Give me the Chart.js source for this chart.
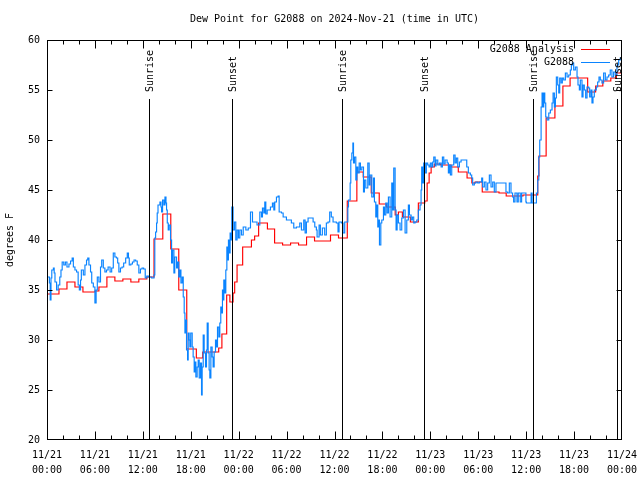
<!DOCTYPE html>
<html><head><meta charset="utf-8">
<script src="https://cdn.jsdelivr.net/npm/chart.js@4"></script>
<style>html,body{margin:0;padding:0;background:#fff}</style>
</head><body>
<canvas id="c" width="640" height="480" style="width:640px;height:480px;display:block"></canvas>
<script>
const chartTitle = 'Dew Point for G2088 on 2024-Nov-21 (time in UTC)';
const yAxisTitle = 'degrees F';
const seriesNames = ['G2088 Analysis', 'G2088'];
const xTickDates = ['11/21','11/21','11/21','11/21','11/22','11/22','11/22','11/22','11/23','11/23','11/23','11/23','11/24'];
const xTickTimes = ['00:00','06:00','12:00','18:00','00:00','06:00','12:00','18:00','00:00','06:00','12:00','18:00','00:00'];
const yTickValues = [20,25,30,35,40,45,50,55,60];

// hours since 11/21 00:00 UTC
const sunHours = [12.81, 23.2, 36.9, 47.24, 60.89, 71.33];
const sunLabels = ['Sunrise','Sunset','Sunrise','Sunset','Sunrise','Sunset'];

// Analysis (value holds from each time until the next)
const analysisHours = [0,1.5,2.5,3.5,4.5,6,6.5,7.5,8.5,9.5,10.5,11.5,12.5,13.4,14.5,15.5,16.5,17.5,18.7,19.5,
  21.5,21.9,22.5,22.9,23.3,23.5,23.8,24.5,25.6,26,26.5,27.6,28.5,29.5,30.5,31.5,32.5,33.5,35.5,36.5,
  37.6,38.8,39.6,40.6,41.6,42.5,43.6,44,44.5,45.5,46.5,47.3,47.6,47.85,48.1,48.5,49.3,50.6,51.5,52.6,
  53.2,53.6,54.5,56.6,57.5,59.6,61.45,61.6,62.5,63.6,64.6,65.5,67.7,68.7,69.6,70.6,71.3,72];
const analysisValues = [34.6,35.1,35.8,35.3,34.8,34.9,35.3,36.3,35.9,36.1,35.8,36.1,36.3,40.1,42.6,39.1,35.0,29.1,28.2,28.8,
  29.2,30.6,34.5,33.8,34.7,35.8,37.5,39.3,40.0,40.4,41.7,41.1,39.7,39.5,39.7,39.5,40.3,39.9,40.5,40.2,
  43.9,46.8,46.3,44.7,43.6,43.3,42.5,42.8,42.3,41.8,43.7,43.9,45.7,46.7,47.3,47.6,47.5,47.3,46.8,46.2,
  45.7,45.8,44.8,44.7,44.4,44.5,46.4,48.4,52.2,53.4,55.4,56.2,54.8,55.4,55.9,56.2,56.7,56.7];

// Station observations
const stationHours = [
  0,0.3,0.4,0.5,0.6,0.8,0.9,1.0,1.2,1.4,1.6,1.75,1.9,2.1,2.3,2.5,2.75,2.95,3.15,3.3,3.5,3.7,3.9,4.05,4.2,4.3,4.55,4.75,4.95,5.1,5.25,5.45,5.6,5.8,6.0,6.15,6.3,6.5,6.7,6.85,7.05,7.25,7.45,7.65,7.9,8.1,8.3,8.5,8.7,8.85,9.0,9.2,9.4,9.6,9.85,10.05,10.2,10.3,10.5,10.7,10.9,11.1,11.3,11.5,11.7,11.9,12.1,12.3,
  12.5,12.7,13.1,13.4,13.5,13.6,13.72,13.8,13.9,14.14,14.27,14.35,14.47,14.64,14.77,14.9,14.97,15.06,15.18,15.3,15.47,15.6,15.72,15.89,16.0,16.22,16.35,16.5,16.64,16.77,16.93,17.06,17.18,17.27,17.39,17.47,17.6,17.68,17.8,17.89,18.0,18.18,18.3,18.43,18.52,18.64,18.8,18.93,19.06,19.22,19.35,19.43,19.56,19.68,19.85,19.97,20.06,20.18,20.3,20.39,20.52,20.68,20.8,20.93,21.1,21.22,21.35,21.52,21.64,21.76,21.89,21.97,22.06,22.14,22.27,22.39,22.52,22.64,22.72,22.8,22.93,23.06,23.14,23.3,23.47,23.64,23.8,23.97,24.14,24.35,
  24.57,24.9,25.2,25.48,25.73,26.0,26.3,26.65,26.86,26.98,27.15,27.27,27.4,27.57,27.82,27.98,28.23,28.4,28.52,28.73,28.94,29.07,29.36,29.57,29.98,30.6,30.9,31.23,31.65,31.86,32.15,32.32,32.48,32.69,33.11,33.32,33.53,33.73,33.82,34.07,34.23,34.48,34.77,34.98,35.19,35.4,35.6,35.82,36.23,36.44,36.57,36.86,37.07,37.28,
  37.67,37.75,37.96,38.04,38.17,38.3,38.38,38.5,38.67,38.8,38.92,39.09,39.25,39.42,39.63,39.75,39.92,40.17,40.34,40.46,40.67,40.88,41.0,41.17,41.3,41.42,41.5,41.63,41.8,41.92,42.13,42.25,42.42,42.59,42.75,42.96,43.17,43.3,43.42,43.59,43.71,43.84,44.0,44.21,44.42,44.63,44.84,45.05,45.25,45.38,45.59,45.75,45.92,46.09,46.3,46.5,46.71,46.84,46.92,47.05,47.17,47.34,47.5,47.67,47.84,48.0,
  48.18,48.3,48.43,48.6,48.72,48.93,49.14,49.35,49.51,49.68,49.85,50.1,50.26,50.39,50.51,50.68,50.93,51.1,51.26,51.43,51.64,51.85,52.47,52.56,52.76,53.01,53.18,53.3,53.51,53.72,53.93,54.14,54.43,54.55,54.76,54.97,55.18,55.39,55.6,55.81,56.01,56.22,57.35,57.47,57.68,57.89,58.1,58.3,58.43,58.6,58.85,59.01,59.26,59.43,59.76,59.97,
  60.03,60.62,60.74,61.16,61.28,61.45,61.58,61.7,61.87,61.99,62.12,62.2,62.33,62.45,62.62,62.83,63.03,63.24,63.37,63.53,63.66,63.78,63.95,64.08,64.2,64.37,64.53,64.7,64.91,65.12,65.33,65.53,65.66,65.78,65.95,66.16,66.37,66.49,66.66,66.78,66.99,67.12,67.28,67.45,67.62,67.83,67.95,68.12,68.24,68.37,68.53,68.78,68.95,69.12,69.28,69.49,69.7,69.91,70.12,70.33,70.53,70.74,70.95,71.16,71.37,71.58,71.78,71.95];
const stationValues = [
  36.3,35.7,34.0,36.2,37.0,37.2,36.7,35.8,35.0,35.5,36.3,37.0,37.8,37.5,37.8,37.3,37.6,37.9,38.2,37.3,37.0,36.8,35.5,35.0,36.0,37.0,36.5,37.5,38.0,38.2,37.5,36.8,35.7,35.3,33.7,35.0,36.3,35.8,37.3,38.0,37.2,36.8,37.0,37.3,36.8,37.2,38.7,38.3,38.2,37.7,36.8,37.2,37.3,37.7,38.2,38.7,38.2,37.5,37.6,37.8,38.0,37.9,37.5,36.7,37.1,37.2,37.1,36.2,
  36.4,36.3,36.2,36.5,40.2,40.8,41.7,42.7,43.5,43.8,43.3,42.8,44.0,43.5,44.3,43.7,43.0,41.7,41.0,41.5,40.0,37.7,39.0,36.7,38.3,37.2,37.8,36.3,37.0,35.7,36.3,34.3,32.7,30.7,32.0,29.0,28.0,30.7,30.0,29.3,30.7,29.3,28.3,26.8,27.8,26.3,27.3,28.0,26.2,27.7,24.5,27.3,30.5,28.7,27.3,29.0,31.7,28.7,27.0,26.2,29.3,28.3,27.3,28.8,30.0,29.3,31.3,30.3,31.7,33.3,32.7,35.0,34.0,36.0,34.7,37.0,39.3,38.0,40.0,38.7,40.7,40.0,43.3,41.0,41.8,40.0,41.0,40.2,41.0,40.5,
  41.3,41.0,41.2,42.8,41.8,41.8,41.5,42.8,42.3,43.2,42.7,43.8,42.6,43.0,43.0,43.3,43.7,43.0,43.8,44.3,44.4,42.8,42.7,42.3,42.0,41.7,41.2,41.3,41.7,41.0,42.0,40.7,41.8,42.2,42.2,41.8,41.3,41.0,40.3,41.5,40.5,41.2,40.5,41.7,41.8,42.8,42.3,41.8,41.7,40.8,41.8,41.7,40.7,41.8,
  43.3,44.0,45.7,48.0,48.7,49.7,47.7,48.3,46.0,47.3,46.7,47.7,47.0,47.3,44.8,46.0,45.2,47.7,45.5,46.5,44.3,46.2,43.8,42.3,43.5,41.3,42.0,39.5,41.7,42.0,43.3,42.5,43.7,42.7,44.3,42.3,45.7,43.0,47.2,43.0,41.0,42.5,41.7,41.0,42.2,43.0,40.7,42.0,43.5,42.5,42.0,42.3,41.7,41.8,42.0,43.0,43.5,45.0,47.3,45.7,47.7,46.7,47.7,47.5,47.3,47.7,
  47.3,47.8,48.3,47.4,48.0,47.5,47.7,47.3,48.3,47.6,48.0,47.7,46.7,47.5,46.5,47.5,48.5,47.7,48.2,47.3,47.8,48.0,48.0,47.3,46.7,46.5,46.2,45.5,45.7,45.8,45.7,45.8,46.2,45.3,45.8,45.0,45.7,46.5,45.3,45.8,44.8,45.7,45.7,44.8,44.7,45.7,44.7,44.3,43.8,44.7,43.8,44.7,43.8,44.7,44.7,43.8,
  43.7,44.7,43.7,43.7,44.7,46.0,48.3,50.0,53.3,54.7,53.3,54.7,53.7,52.3,52.0,52.7,53.0,53.7,54.7,53.3,54.2,56.3,55.5,54.7,56.2,55.7,56.2,56.0,56.7,56.3,56.5,57.0,57.5,57.7,57.0,57.3,56.3,55.5,55.0,56.0,54.3,55.5,55.0,54.2,55.3,55.2,54.3,55.0,53.7,54.3,55.0,55.3,55.8,56.3,56.0,55.7,56.7,56.0,56.3,56.5,57.0,56.3,56.8,56.5,57.5,58.0,58.2,57.8];

const seriesColors = ['#ff0000', '#0a84ff'];
const FONT = '10px "DejaVu Sans Mono", "Liberation Mono", monospace';
const SUN_LINE_TOP = 54.1;

const toPoints = (xs, ys) => xs.map((x, i) => ({x: x, y: ys[i]}));

const decorations = {
  id: 'decorations',
  afterDatasetsDraw(chart) {
    const {ctx, chartArea: a, scales: {x, y}} = chart;
    ctx.save();
    ctx.strokeStyle = '#000';
    ctx.fillStyle = '#000';
    ctx.lineWidth = 1;
    ctx.font = FONT;
    const L = Math.round(a.left) + 0.5, R = Math.round(a.right) - 0.5;
    const T = Math.round(a.top) + 0.5, B = Math.round(a.bottom) - 0.5;
    // sunrise / sunset markers
    const topPx = Math.round(y.getPixelForValue(SUN_LINE_TOP));
    sunHours.forEach((h, i) => {
      const px = Math.min(Math.round(x.getPixelForValue(h)) + 0.5, R);
      ctx.beginPath(); ctx.moveTo(px, topPx); ctx.lineTo(px, B); ctx.stroke();
      ctx.save();
      ctx.translate(px + 1, topPx - 7);
      ctx.rotate(-Math.PI / 2);
      ctx.textAlign = 'left'; ctx.textBaseline = 'middle';
      ctx.fillText(sunLabels[i], 0, 0);
      ctx.restore();
    });
    // frame
    ctx.strokeRect(L, T, R - L, B - T);
    // inward tics
    ctx.beginPath();
    for (let h = x.min; h <= x.max; h += 2) {
      const px = Math.min(Math.round(x.getPixelForValue(h)) + 0.5, R);
      const len = (h % 6 === 0) ? 8 : 4;
      ctx.moveTo(px, B); ctx.lineTo(px, B - len);
      ctx.moveTo(px, T); ctx.lineTo(px, T + len);
    }
    yTickValues.forEach(v => {
      const py = Math.max(Math.min(Math.round(y.getPixelForValue(v)) + 0.5, B), T);
      ctx.moveTo(L, py); ctx.lineTo(L + 5, py);
      ctx.moveTo(R, py); ctx.lineTo(R - 5, py);
    });
    ctx.stroke();
    // title
    ctx.textAlign = 'center'; ctx.textBaseline = 'middle';
    ctx.fillText(chartTitle, (a.left + a.right) / 2, 19);
    // key
    chart.data.datasets.forEach((ds, i) => {
      const ky = Math.round(a.top + 9 + 13 * i) + 0.5;
      ctx.textAlign = 'right';
      ctx.fillStyle = '#000';
      ctx.fillText(ds.label, a.right - 48, ky);
      ctx.strokeStyle = ds.borderColor;
      ctx.beginPath(); ctx.moveTo(a.right - 41, ky); ctx.lineTo(a.right - 12, ky); ctx.stroke();
    });
    ctx.restore();
  }
};

Chart.defaults.font.family = '"DejaVu Sans Mono", "Liberation Mono", monospace';
Chart.defaults.font.size = 10;
Chart.defaults.color = '#000';

new Chart(document.getElementById('c'), {
  type: 'line',
  data: {
    datasets: [
      {label: seriesNames[0], data: toPoints(analysisHours, analysisValues), borderColor: seriesColors[0],
       borderWidth: 1.15, pointRadius: 0, stepped: 'before', fill: false, order: 2},
      {label: seriesNames[1], data: toPoints(stationHours, stationValues), borderColor: seriesColors[1],
       borderWidth: 1.15, pointRadius: 0, stepped: 'before', fill: false, order: 1}
    ]
  },
  options: {
    responsive: false,
    animation: false,
    devicePixelRatio: 1,
    layout: {padding: {left: 0, right: 18, top: 40, bottom: 0}},
    plugins: {legend: {display: false}, tooltip: {enabled: false}, title: {display: false}},
    scales: {
      x: {
        type: 'linear', min: 0, max: 72,
        grid: {display: false, drawTicks: false},
        border: {display: false},
        ticks: {stepSize: 6, maxRotation: 0, autoSkip: false, padding: 8,
          font: {size: 10, lineHeight: 1.5},
          callback: (v) => { const i = Math.round(v / 6); return [xTickDates[i], xTickTimes[i]]; }},
        afterFit: (s) => { s.height = 40; s.paddingLeft = 0; s.paddingRight = 0; }
      },
      y: {
        type: 'linear', min: 20, max: 60,
        grid: {display: false, drawTicks: false},
        border: {display: false},
        ticks: {stepSize: 5, padding: 7, callback: (v) => String(v)},
        title: {display: true, text: yAxisTitle, padding: {top: 4, bottom: 0}, font: {size: 10}},
        afterFit: (s) => { s.width = 47; s.paddingTop = 0; s.paddingBottom = 0; }
      }
    }
  },
  plugins: [decorations]
});
</script>
</body></html>
